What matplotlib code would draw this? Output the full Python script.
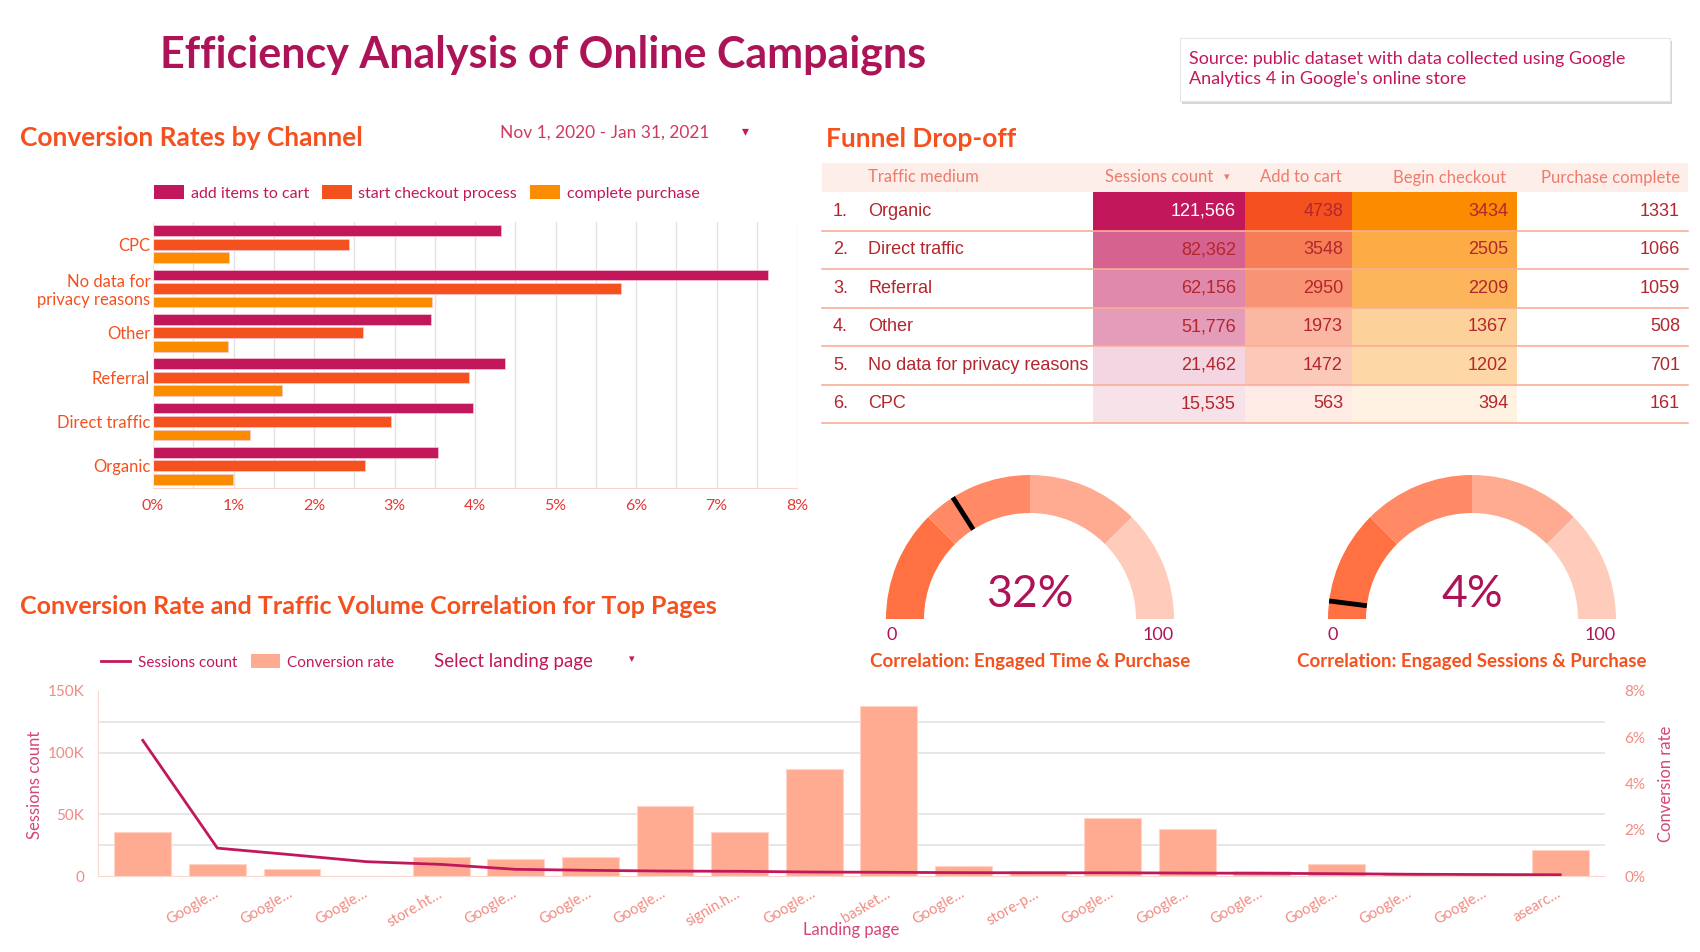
import matplotlib
matplotlib.use('Agg')
import matplotlib.pyplot as plt
import numpy as np
from matplotlib.patches import Wedge, Rectangle, Patch
from matplotlib.lines import Line2D
from matplotlib.colors import LinearSegmentedColormap, Normalize, to_rgb

plt.rcParams['font.family'] = ['Lato', 'DejaVu Sans']

# ---- data ----
channels = ['CPC', 'No data for\nprivacy reasons', 'Other', 'Referral', 'Direct traffic', 'Organic']
cart_rate = [4.32, 7.64, 3.45, 4.37, 3.97, 3.54]
checkout_rate = [2.43, 5.81, 2.61, 3.93, 2.96, 2.63]
purchase_rate = [0.95, 3.47, 0.93, 1.60, 1.21, 0.99]
rate_labels = ['add items to cart', 'start checkout process', 'complete purchase']

mediums = ['Organic', 'Direct traffic', 'Referral', 'Other', 'No data for privacy reasons', 'CPC']
sessions = [121566, 82362, 62156, 51776, 21462, 15535]
add_to_cart = [4738, 3548, 2950, 1973, 1472, 563]
begin_checkout = [3434, 2505, 2209, 1367, 1202, 394]
purchase_complete = [1331, 1066, 1059, 508, 701, 161]
table_headers = ['Traffic medium', 'Sessions count', 'Add to cart', 'Begin checkout', 'Purchase complete']

gauge_values = [32, 4]
gauge_titles = ['Correlation: Engaged Time & Purchase', 'Correlation: Engaged Sessions & Purchase']
gauge_bands = [0, 25, 50, 75, 100]
gauge_colors = ['#ff7043', '#ff8a65', '#ffab91', '#ffccbc']

pages = ['', 'Google…', 'Google…', 'Google…', 'store.ht…', 'Google…', 'Google…', 'Google…',
         'signin.h…', 'Google…', 'basket…', 'Google…', 'store-p…', 'Google…', 'Google…',
         'Google…', 'Google…', 'Google…', 'Google…', 'asearc…']
page_sessions = [110000, 22600, 17200, 11600, 9400, 5400, 4600, 4000, 3800, 3200,
                 3000, 2700, 2600, 2600, 2400, 2200, 1900, 1400, 1200, 1000]
page_conv = [1.92, 0.52, 0.32, 0.0, 0.82, 0.72, 0.82, 3.01, 1.92, 4.62,
             7.33, 0.42, 0.22, 2.52, 2.02, 0.22, 0.52, 0.12, 0.05, 1.12]

W, H = 1700, 952
fig = plt.figure(figsize=(17, 9.52), dpi=100)
fig.patch.set_facecolor('white')


def box(l, t, r, b):
    return [l / W, 1 - b / H, (r - l) / W, (b - t) / H]


def ftext(x, y, s, **kw):
    return fig.text(x / W, 1 - y / H, s, **kw)


# overlay in pixel coords for boxes / table
ov = fig.add_axes([0, 0, 1, 1])
ov.set_xlim(0, W)
ov.set_ylim(H, 0)
ov.axis('off')

ftext(160, 55, 'Efficiency Analysis of Online Campaigns', fontsize=31, fontweight='bold',
      color='#ad1457', va='center')

# source box
ov.add_patch(Rectangle((1182, 41), 490, 63, fc='#d6d6d6', ec='none'))
ov.add_patch(Rectangle((1180, 38), 490, 63, fc='white', ec='#e6e6e6', lw=0.8))
ftext(1189, 69, "Source: public dataset with data collected using Google\nAnalytics 4 in Google's online store",
      fontsize=13, color='#c2185b', va='center', linespacing=1.35)

# ---- conversion rates by channel ----
ftext(20, 138, 'Conversion Rates by Channel', fontsize=19, fontweight='bold', color='#f4511e', va='center')
ftext(500, 133, 'Nov 1, 2020 - Jan 31, 2021', fontsize=12.5, color='#d03a5e', va='center')
ftext(745, 131, '▾', fontsize=10, color='#c2185b', va='center', ha='center')

ax1 = fig.add_axes(box(153, 222, 797, 488))
y = np.arange(len(channels))
bar_cols = ['#c2185b', '#f4511e', '#fb8c00']
for k, (vals, c) in enumerate(zip([cart_rate, checkout_rate, purchase_rate], bar_cols)):
    ax1.barh(y + (k - 1) * 0.305, vals, height=0.245, color=c, edgecolor='#f6c9d3', lw=0.5)
ax1.set_ylim(5.5, -0.5)
ax1.set_xlim(0, 8)
ax1.set_yticks(y)
ax1.set_yticklabels(channels, fontsize=12, color='#f4511e', linespacing=1.15)
ax1.set_xticks(range(9))
ax1.set_xticklabels([f'{v}%' for v in range(9)], fontsize=11.5, color='#e53935')
ax1.set_xticks(np.arange(0.5, 8, 1), minor=True)
ax1.grid(axis='x', which='both', color='#e3e3e3', lw=1)
ax1.set_axisbelow(True)
ax1.tick_params(which='both', length=0)
ax1.tick_params(axis='x', pad=8)
ax1.tick_params(axis='y', pad=2)
for s in ['top', 'right']:
    ax1.spines[s].set_visible(False)
ax1.spines['left'].set_color('#ececec')
ax1.spines['bottom'].set_color('#f9d3cb')

fig.legend(handles=[Patch(fc=c, label=l) for c, l in zip(bar_cols, rate_labels)],
           loc='center left', bbox_to_anchor=(154 / W, 1 - 193 / H), ncol=3, frameon=False,
           fontsize=11.5, labelcolor='#c2185b', handlelength=1.9, handleheight=1.0,
           handletextpad=0.4, columnspacing=0.8, borderpad=0, borderaxespad=0)

# ---- funnel table ----
ftext(826, 139, 'Funnel Drop-off', fontsize=19, fontweight='bold', color='#f4511e', va='center')
t_left, t_right = 822, 1688
head_top, head_bot = 163, 192
row_h = 38.5
ov.add_patch(Rectangle((t_left, head_top), t_right - t_left, head_bot - head_top, fc='#fdeeea', ec='none'))
head_y = (head_top + head_bot) / 2
hc = '#ee7b6b'
ftext(868, head_y, table_headers[0], fontsize=12, color=hc, va='center')
ftext(1213, head_y, table_headers[1], fontsize=12, color=hc, va='center', ha='right')
ftext(1227, head_y - 1, '▾', fontsize=8, color=hc, va='center', ha='center')
ftext(1342, head_y, table_headers[2], fontsize=12, color=hc, va='center', ha='right')
ftext(1506, head_y, table_headers[3], fontsize=12, color=hc, va='center', ha='right')
ftext(1680, head_y, table_headers[4], fontsize=12, color=hc, va='center', ha='right')

heat_cols = [
    (sessions, '#c2185b', 1093, 1245, True),
    (add_to_cart, '#f4511e', 1245, 1352, False),
    (begin_checkout, '#fb8c00', 1352, 1517, False),
]
txt_c = '#b3262d'
tf = ['Liberation Sans', 'DejaVu Sans']
for i, name in enumerate(mediums):
    top = head_bot + i * row_h
    yc = top + row_h / 2
    for vals, base, l, r, comma in heat_cols:
        cmap = LinearSegmentedColormap.from_list('h', ['white', base])
        col = cmap(Normalize(0, max(vals))(vals[i]))
        ov.add_patch(Rectangle((l, top), r - l, row_h, fc=col, ec='none'))
        rr, gg, bb = to_rgb(col)
        lum = 0.2126 * rr + 0.7152 * gg + 0.0722 * bb
        tc = 'white' if lum < 0.35 else txt_c
        s = f'{vals[i]:,}' if comma else f'{vals[i]}'
        ftext(r - 9, yc, s, fontsize=13, color=tc, va='center', ha='right', family=tf)
    ftext(833, yc, f'{i + 1}.', fontsize=13, color=txt_c, va='center', family=tf)
    ftext(868, yc, name, fontsize=13, color=txt_c, va='center', family=tf)
    ftext(1680, yc, f'{purchase_complete[i]}', fontsize=13, color=txt_c, va='center', ha='right', family=tf)
    ov.plot([t_left, t_right], [top + row_h, top + row_h], color='#f9ae98', lw=1.2)

# ---- gauges ----
gauge_cx = [1030, 1472]
gcy, R = 619, 144
for cx, v, title in zip(gauge_cx, gauge_values, gauge_titles):
    axg = fig.add_axes(box(cx - 1.15 * R, gcy - 1.1 * R, cx + 1.15 * R, gcy + 0.35 * R))
    axg.set_xlim(-1.15, 1.15)
    axg.set_ylim(-0.35, 1.1)
    axg.set_aspect('equal')
    axg.axis('off')
    for b0, b1, c in zip(gauge_bands[:-1], gauge_bands[1:], gauge_colors):
        axg.add_patch(Wedge((0, 0), 1.0, 180 - b1 * 1.8, 180 - b0 * 1.8, width=0.264, fc=c, ec='none'))
    ang = np.deg2rad(180 - v * 1.8)
    axg.plot([0.736 * np.cos(ang), 1.0 * np.cos(ang)], [0.736 * np.sin(ang), 1.0 * np.sin(ang)],
             color='black', lw=3.5, solid_capstyle='butt')
    axg.text(0, 0.17, f'{v}%', fontsize=32, color='#ad1457', ha='center', va='center')
    axg.text(-1.0, -0.11, '0', fontsize=13, color='#ad1457', ha='left', va='center')
    axg.text(1.0, -0.11, '100', fontsize=13, color='#ad1457', ha='right', va='center')
    ftext(cx, 661, title, fontsize=13.5, fontweight='bold', color='#f4511e', ha='center', va='center')

# ---- landing page chart ----
ftext(20, 607, 'Conversion Rate and Traffic Volume Correlation for Top Pages', fontsize=18,
      fontweight='bold', color='#f4511e', va='center')
ftext(434, 662, 'Select landing page', fontsize=13.5, color='#c2185b', va='center')
ftext(632, 659, '▾', fontsize=8, color='#c2185b', va='center', ha='center')

axb = fig.add_axes(box(98, 691, 1605, 876))
x = np.arange(len(pages))
axb.bar(x, page_conv, width=0.76, color='#ffab91', edgecolor='#ffd3c5', lw=0.8)
axb.set_xlim(-0.6, 19.6)
axb.set_ylim(0, 8)

axl = axb.twinx()
axl.plot(x, page_sessions, color='#c2185b', lw=2)
axl.set_ylim(0, 150000)
axl.yaxis.tick_left()
axl.set_yticks([0, 50000, 100000, 150000])
axl.set_yticklabels(['0', '50K', '100K', '150K'], fontsize=11, color='#f28b82')
axl.tick_params(length=0, pad=10)
for s in ['top', 'right', 'bottom', 'left']:
    axl.spines[s].set_visible(False)

axb.yaxis.tick_right()
axb.set_yticks([0, 2, 4, 6, 8])
axb.set_yticklabels([f'{v}%' for v in [0, 2, 4, 6, 8]], fontsize=11, color='#f28b82')
axb.set_yticks(np.linspace(0, 8, 7), minor=True)
axb.grid(axis='y', which='minor', color='#e3e3e3', lw=1.2)
axb.set_axisbelow(True)
axb.set_xticks(x)
axb.set_xticklabels(pages, rotation=30, ha='right', va='center', rotation_mode='anchor',
                    fontsize=10.5, color='#f28b82')
axb.tick_params(which='both', length=0)
axb.tick_params(axis='x', pad=12)
axb.tick_params(axis='y', pad=14)
for s in ['top', 'right']:
    axb.spines[s].set_visible(False)
axb.spines['left'].set_color('#fbd6cc')
axb.spines['bottom'].set_color('#fbd6cc')

ftext(35, 785, 'Sessions count', fontsize=12, color='#d6457a', rotation=90, ha='center', va='center')
ftext(1666, 784, 'Conversion rate', fontsize=12, color='#d6457a', rotation=90, ha='center', va='center')
ftext(851, 930, 'Landing page', fontsize=12, color='#d6457a', ha='center', va='center')

fig.legend(handles=[Line2D([0], [0], color='#c2185b', lw=2, label='Sessions count'),
                    Patch(fc='#ffab91', label='Conversion rate')],
           loc='center left', bbox_to_anchor=(101 / W, 1 - 662 / H), ncol=2, frameon=False,
           fontsize=11, labelcolor='#c2185b', handlelength=1.9, handleheight=1.0,
           handletextpad=0.5, columnspacing=0.9, borderpad=0, borderaxespad=0)

fig.savefig('out.png', dpi=100, facecolor='white')
